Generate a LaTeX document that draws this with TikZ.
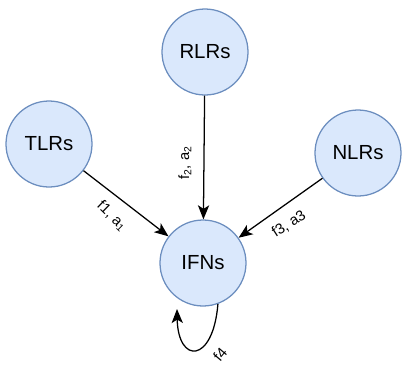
\documentclass[tikz,border=0pt]{standalone}
\usepackage{fontspec}
\setmainfont{Liberation Sans}
\usetikzlibrary{arrows.meta}
\definecolor{nodefill}{HTML}{DAE8FC}
\definecolor{nodeline}{HTML}{6C8EBF}
\begin{document}
\begin{tikzpicture}[x=0.025cm,y=-0.025cm,
	receptor/.style={circle,draw=nodeline,fill=nodefill,line width=0.9pt,minimum size=86*0.025cm,inner sep=0,font=\fontsize{14.5}{17}\selectfont},
	signal/.style={-{Stealth[length=10pt,width=8pt,inset=2.5pt]},line width=0.9pt,black},
	elabel/.style={font=\fontsize{10.5}{12}\selectfont,inner sep=0}]
	\useasboundingbox (0,0) rectangle (402,364);
	% Receptors
	\node[receptor] (rlr) at (205,52) {RLRs};
	\node[receptor] (tlr) at (49,144) {TLRs};
	\node[receptor] (nlr) at (358,153) {NLRs};
	\node[receptor] (ifn) at (203,263) {IFNs};
	% Signals
	\draw[signal] (tlr) -- (ifn);
	\draw[signal] (rlr) -- (ifn);
	\draw[signal] (nlr) -- (ifn);
	% Self loop
	\coordinate (loopend) at (177,309);
	\draw[signal] (ifn.-70) .. controls (213,364) and (178,364) .. (loopend);
	% Labels
	\node[elabel,rotate=-44] (l1) at (112,216) {f1, a\textsubscript{1}};
	\node[elabel,rotate=90] (l2) at (185,163) {f\textsubscript{2}, a\textsubscript{2}};
	\node[elabel,rotate=33] (l3) at (289,224) {f3, a3};
	\node[elabel,rotate=50] (l4) at (220,354) {f4};
\end{tikzpicture}
\end{document}
